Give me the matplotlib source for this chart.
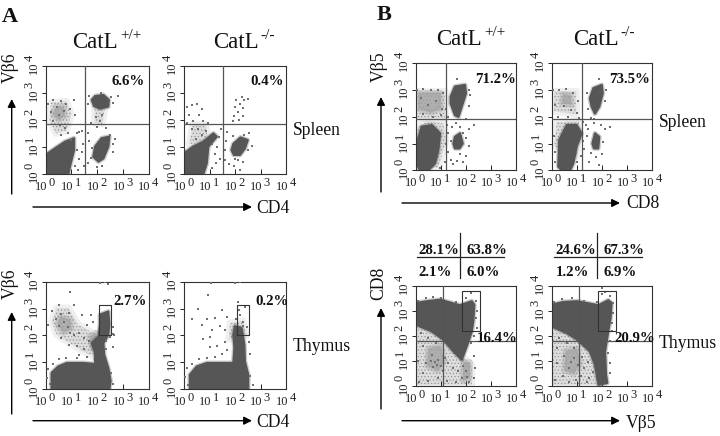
import numpy as np
import matplotlib
matplotlib.use('Agg')
import matplotlib.pyplot as plt

plt.rcParams['font.family'] = ['Liberation Serif', 'DejaVu Sans']
plt.rcParams['hatch.linewidth'] = 0.4

W, H = 720, 436
DOT = '#565656'
HAZE = '#dcdcdc'
MID = '#a2a2a2'

# all values are log10 of the fluorescence, (x, y)
# --- A spleen +/+
a1_dense = [
    [(0,0),(0,.7),(.36,.94),(.75,1.19),(1.1,1.32),(1.1,.88),(.97,.39),(.88,0)],
    [(1.85,.63),(1.92,1.01),(2.17,1.32),(2.47,1.38),(2.43,1.01),(2.24,.57),(2.05,.45)],
    [(1.79,2.75),(1.92,2.89),(2.24,2.93),(2.45,2.75),(2.43,2.5),(2.11,2.43),(1.88,2.52)],
]
a1_haze = [[(.15,2.0),(.2,2.65),(.8,2.7),(1.0,2.2),(.8,1.6),(.4,1.5)],
           [(1.9,1.9),(1.9,2.45),(2.3,2.45),(2.2,1.85)]]
a1_mid = [[(.3,2.2),(.4,2.5),(.7,2.5),(.75,2.15),(.5,2.0)]]
a1_pts = [(.1,2.6),(.3,2.75),(.45,2.5),(.6,2.7),(.8,2.6),(.95,2.4),(1.1,2.75),(.2,2.3),(.5,2.2),(.7,2.35),
          (1.15,2.2),(.3,1.95),(.55,1.8),(.75,1.7),(.6,1.45),(.85,1.5),(1.0,1.25),(1.2,1.5),(1.3,1.55),(1.4,1.6),
          (1.45,1.1),(1.2,.9),(1.3,.55),(1.4,.8),(1.5,.3),(1.15,.3),(1.25,.15),(1.65,.4),(1.75,.6),(2.0,.25),
          (2.2,.3),(2.5,1.45),(2.7,1.3),(2.6,1.1),(2.55,2.85),(2.6,2.65),(2.8,2.9),(1.7,2.9),(1.65,2.6),(2.15,3.0),
          (2.0,1.75),(2.1,1.95),(1.95,2.1),(2.2,2.2),(1.75,1.9),(2.35,1.7),(1.7,1.2),(1.65,1.5),(1.8,.95),(2.6,.8)]
# --- A spleen -/-
a2_dense = [
    [(0,0),(0,.76),(.36,1.01),(.76,1.19),(1.15,1.5),(1.28,1.38),(.95,1.01),(.89,.39),(.76,0)],
    [(1.86,.88),(1.93,1.11),(2.21,1.35),(2.49,1.25),(2.38,.94),(2.19,.7),(1.95,.7)],
]
a2_haze = [[(.2,1.1),(.35,1.85),(.85,1.85),(.95,1.2)]]
a2_mid = []
a2_pts = [(.1,2.5),(.3,2.55),(.5,2.6),(.7,2.4),(.2,2.2),(.6,2.2),(.35,1.95),(.75,1.95),(.95,1.9),(.1,1.9),
          (.3,1.65),(.55,1.65),(.7,1.45),(.45,1.3),(.85,1.6),(1.1,1.1),(1.2,.75),(1.3,1.0),(1.35,1.35),(1.45,1.65),
          (1.25,.4),(1.1,.2),(1.4,.55),(1.6,.9),(1.65,1.2),(1.7,1.55),(1.6,.5),(1.75,.35),(1.95,.3),(2.1,.5),
          (2.2,.15),(2.3,.45),(2.5,.9),(2.65,1.05),(2.0,2.5),(2.2,2.6),(2.1,2.3),(2.3,2.45),(2.35,2.75),(2.5,2.8),
          (1.95,2.15),(2.15,2.0),(1.9,1.95),(2.3,2.15),(2.05,2.75),(2.25,2.85),(1.9,1.4),(2.35,1.45),(2.55,1.5),(2.0,.55)]
# --- A thymus +/+
a3_dense = [[(.23,0),(.23,.6),(.49,.84),(.82,.97),(1.46,.97),(1.92,.93),(1.92,1.34),(1.79,1.71),(2.05,1.96),
             (2.11,2.4),(2.11,2.77),(2.43,2.89),(2.47,2.4),(2.43,2.02),(2.24,1.71),(2.27,1.28),(2.43,.78),(2.52,.29),(2.47,0)]]
a3_haze = [[(.23,2.52),(.43,3.02),(.88,3.02),(1.27,2.4),(1.98,2.02),(1.98,1.16),(1.46,1.4),(.82,1.78),(.43,2.02)]]
a3_mid = [[(.45,2.4),(.55,2.7),(.95,2.6),(1.0,2.25),(.7,2.1)], [(1.7,1.95),(1.95,2.1),(2.0,1.55),(1.8,1.5)]]
a3_pts = [(.1,.75),(.05,.4),(.15,.2),(.3,.95),(.5,1.1),(.8,1.15),(1.2,1.15),(1.6,1.2),(.1,2.4),(.25,2.9),
          (.5,3.15),(.9,2.85),(1.1,3.15),(.95,3.6),(1.4,2.75),(1.6,2.4),(1.75,2.75),(1.85,2.5),(.6,1.9),(.9,1.65),
          (1.2,1.6),(1.3,1.25),(1.5,1.5),(.4,2.6),(.6,2.8),(.7,2.5),(.5,2.35),(.85,2.3),(.95,2.1),(1.1,2.0),
          (1.3,2.1),(1.5,1.9),(1.7,1.8),(2.35,1.8),(2.5,1.95),(2.6,1.55),(2.55,.6),(2.6,.2),(2.1,3.95),(2.3,3.98),
          (2.4,3.9),(2.6,2.3),(2.6,2.05),(2.65,2.0),(2.35,1.5)]
# --- A thymus -/-
a4_dense = [[(.23,0),(.23,.53),(.5,.84),(.89,.97),(1.93,.97),(1.97,1.53),(1.93,2.02),(1.99,2.34),(2.25,2.27),
             (2.36,1.65),(2.38,1.03),(2.51,.53),(2.51,0)]]
a4_haze = [[(1.75,1.85),(1.8,2.45),(2.3,2.55),(2.45,2.0)]]
a4_mid = []
a4_pts = [(.1,.8),(.05,.45),(.15,.15),(.3,.95),(.6,1.1),(.9,1.15),(1.2,1.2),(1.5,1.3),(1.7,1.45),(1.3,1.6),
          (1.0,1.55),(1.6,1.75),(.3,2.6),(.55,3.0),(.7,2.4),(.9,2.6),(1.1,2.2),(1.0,1.95),(.75,1.85),(1.2,2.65),
          (1.4,2.35),(1.6,2.2),(1.7,2.7),(1.5,2.95),(.95,3.5),(1.05,3.95),(2.0,3.95),(2.2,3.98),(2.05,2.6),(2.2,2.75),
          (2.3,2.5),(2.15,2.95),(2.4,3.05),(2.1,3.25),(2.3,2.35),(2.45,2.3),(2.55,1.75),(2.6,1.3),(2.6,.5),(2.7,.15)]
# --- B spleen +/+
b1_dense = [
    [(.04,.26),(.04,1.0),(.24,1.63),(.64,1.69),(.97,1.38),(.9,.76),(.77,.26),(.5,0),(.17,0)],
    [(1.39,2.75),(1.56,3.13),(1.96,3.19),(2.0,2.88),(1.83,2.38),(1.7,2.0),(1.56,2.06),(1.39,2.5)],
    [(1.5,1.0),(1.56,1.25),(1.76,1.38),(1.87,1.0),(1.74,.82),(1.56,.82)],
]
b1_haze = [[(.04,1.95),(.04,2.95),(1.15,2.95),(1.15,1.95)],
           [(.04,1.6),(.04,.1),(.9,.1),(1.2,1.1),(1.1,1.75),(.5,1.85)]]
b1_mid = [[(.1,2.3),(.1,2.9),(1.0,2.9),(1.0,2.3),(.6,2.15)]]
b1_pts = [(.05,3.0),(.3,3.05),(.6,3.02),(.9,3.0),(1.1,2.9),(.2,2.7),(.5,2.45),(.8,2.6),(1.05,2.3),(.3,2.1),
          (.7,2.0),(1.0,2.05),(1.2,2.3),(1.3,2.0),(1.25,1.7),(1.3,1.4),(1.2,1.0),(1.3,.7),(1.15,.3),(.95,.1),
          (1.4,.4),(1.5,.25),(1.65,.35),(1.75,.6),(1.45,1.6),(1.6,1.75),(1.75,1.6),(1.9,1.4),(2.0,1.2),(2.1,.9),
          (2.0,.55),(1.9,.3),(2.1,2.4),(2.15,2.8),(2.1,3.0),(1.65,3.4),(2.0,1.9),(2.1,1.55),(2.3,1.7),(1.4,1.1)]
# --- B spleen -/-
b2_dense = [
    [(.26,.14),(.3,1.13),(.6,1.69),(.99,1.69),(1.19,1.38),(.99,.88),(.86,.26),(.73,0),(.4,0)],
    [(1.52,2.69),(1.66,3.07),(1.99,3.19),(2.03,2.88),(1.89,2.38),(1.72,2.12),(1.59,2.38)],
    [(1.62,1.0),(1.72,1.38),(1.89,1.25),(1.85,.82),(1.68,.82)],
]
b2_haze = [[(.1,2.2),(.1,2.95),(.95,2.95),(.95,2.1)],[(.1,.9),(.2,1.8),(1.1,1.85),(1.0,.5)]]
b2_mid = [[(.4,2.5),(.45,2.85),(.75,2.8),(.8,2.45)]]
b2_pts = [(.05,3.0),(.3,3.0),(.55,3.05),(.85,2.9),(1.05,2.6),(.15,2.45),(.5,2.4),(.75,2.25),(1.0,2.15),(.25,2.0),
          (.65,2.0),(1.1,1.95),(1.25,1.8),(1.35,1.7),(1.45,1.55),(1.25,1.1),(1.3,.8),(1.15,.55),(1.0,.3),(.15,.7),
          (.1,1.3),(.15,.3),(1.4,1.3),(1.55,.65),(1.5,.3),(1.75,.5),(1.9,.2),(2.0,.6),(2.05,1.05),(2.1,1.55),
          (1.95,1.7),(1.7,1.75),(1.55,1.95),(1.7,1.9),(1.4,2.9),(1.45,2.3),(2.1,2.6),(2.15,3.0),(2.3,1.6),(1.9,3.4)]
# --- B thymus +/+
b3_dense = [[(0,3.31),(.44,3.38),(.97,3.44),(1.76,3.22),(2.23,3.38),(2.33,3.24),(2.29,2.58),(2.23,2.18),
             (2.03,1.58),(1.83,1.05),(1.5,1.38),(1.1,1.85),(.64,2.18),(0,2.45)]]
b3_haze = [[(0,2.45),(.64,2.25),(1.1,1.95),(1.83,1.2),(2.23,.85),(2.23,.05),(0,.05)]]
b3_mid = [[(.45,.8),(.5,1.5),(1.0,1.6),(1.15,1.0),(.9,.6)], [(1.9,.2),(1.9,.95),(2.15,.95),(2.15,.3)]]
b3_pts = [(.1,3.4),(.4,3.5),(.7,3.55),(1.0,3.5),(1.6,3.35),(2.0,3.5),(2.2,3.7),(2.4,3.4),(2.45,3.0),(2.4,2.7),
          (2.45,2.3),(2.3,2.0),(2.2,1.7),(2.3,1.2),(2.35,.7),(2.3,.3),(.2,2.1),(.5,1.9),(.8,1.7),(.3,1.6),
          (.65,1.25),(.6,1.0),(.75,.95),(.9,1.05),(.85,.85),(1.0,.8),(.7,.75),(1.15,1.1),(1.3,.9),(1.1,.6),
          (1.5,.7),(1.7,.6),(1.9,.8),(2.0,.6),(2.05,.35),(2.1,.15),(1.85,.3),(.3,.5),(.15,.15),(.5,.2),
          (.9,.3),(1.25,.2),(1.6,.15),(.1,1.0),(.4,.9)]
# --- B thymus -/-
b4_dense = [[(0,3.24),(.46,3.35),(1.02,3.38),(1.86,3.22),(2.25,3.42),(2.38,3.31),(2.34,2.71),(2.25,2.18),(2.12,1.38),
             (2.16,.45),(2.21,.12),(1.86,.05),(1.72,.85),(1.52,1.38),(1.02,1.85),(.6,2.11),(0,2.38)]]
b4_haze = [[(0,2.38),(.6,2.2),(1.02,1.95),(1.65,1.3),(1.9,.05),(0,.05)]]
b4_mid = [[(.5,.6),(.55,1.4),(1.0,1.5),(1.15,.9),(.9,.5)]]
b4_pts = [(.1,3.35),(.4,3.45),(.8,3.5),(1.3,3.4),(1.8,3.35),(2.0,3.65),(2.3,3.6),(2.45,3.3),(2.45,2.9),(2.4,2.5),
          (2.4,2.2),(2.3,1.8),(2.25,1.3),(2.3,.9),(2.3,.5),(.3,1.9),(.6,1.7),(.9,1.5),(.2,1.5),(.5,1.2),
          (.75,.95),(.9,1.1),(1.05,.85),(.7,.7),(1.2,1.15),(1.3,.7),(1.45,.95),(1.15,.4),(.95,.25),(.45,.4),
          (.15,.25),(.2,.9),(1.5,.3),(1.65,.55),(1.4,.15),(.7,.15),(2.0,3.9),(2.1,3.75)]

# panel: box in pixels (left, top, right, bottom), dense, haze, mid, dots, quadrant, gate
panels = [
    ((45.7, 66.3, 148.7, 173.7), a1_dense, a1_haze, a1_mid, a1_pts, (1.53, 1.84), None),
    ((184, 66.3, 286.3, 173.7), a2_dense, a2_haze, a2_mid, a2_pts, (1.52, 1.84), None),
    ((45.7, 281.7, 148.7, 389), a3_dense, a3_haze, a3_mid, a3_pts, None, (2.06, 2.55, 2.02, 3.12)),
    ((184, 281.7, 286.3, 389), a4_dense, a4_haze, a4_mid, a4_pts, None, (2.06, 2.55, 2.02, 3.12)),
    ((415.7, 63.3, 516.3, 170.3), b1_dense, b1_haze, b1_mid, b1_pts, (1.2, 1.92), None),
    ((551.7, 63.3, 652.3, 170.3), b2_dense, b2_haze, b2_mid, b2_pts, (1.2, 1.92), None),
    ((415.7, 285.7, 516.3, 386), b3_dense, b3_haze, b3_mid, b3_pts, (1.1, 1.78), (1.83, 2.57, 2.2, 3.8)),
    ((551.7, 285.7, 652.3, 386), b4_dense, b4_haze, b4_mid, b4_pts, (1.1, 1.78), (1.83, 2.57, 2.2, 3.8)),
]

fig = plt.figure(figsize=(W / 100, H / 100), dpi=100)


def draw_panel(box, dense, haze, mid, pts, quad, gate):
    l, t, r, b = box
    ax = fig.add_axes([l / W, 1 - b / H, (r - l) / W, (b - t) / H])
    ax.set_xscale('log')
    ax.set_yscale('log')
    ax.set_xlim(1, 1e4)
    ax.set_ylim(1, 1e4)
    for poly in haze:
        p = 10 ** np.array(poly)
        # soft rim, then a stipple over it
        ax.fill(p[:, 0], p[:, 1], facecolor=HAZE, edgecolor=HAZE, lw=5, alpha=0.45, joinstyle='round', zorder=1)
        ax.fill(p[:, 0], p[:, 1], facecolor=HAZE, edgecolor=HAZE, lw=0, zorder=1)
        ax.fill(p[:, 0], p[:, 1], facecolor='none', edgecolor='#8c8c8c', hatch='.....', lw=0, zorder=1)
    for poly in mid:
        p = 10 ** np.array(poly)
        ax.fill(p[:, 0], p[:, 1], facecolor=MID, edgecolor=MID, lw=4, alpha=0.4, joinstyle='round', zorder=1.5)
        ax.fill(p[:, 0], p[:, 1], facecolor=MID, edgecolor=MID, lw=0, alpha=0.6, zorder=1.5)
    for poly in dense:
        p = 10 ** np.array(poly)
        ax.fill(p[:, 0], p[:, 1], facecolor=DOT, edgecolor=DOT, lw=3.5, alpha=0.3, joinstyle='round', zorder=2)
        ax.fill(p[:, 0], p[:, 1], facecolor=DOT, edgecolor=DOT, lw=1.6, joinstyle='round', zorder=2)
    p = 10 ** np.array(pts)
    ax.scatter(p[:, 0], p[:, 1], s=0.7, marker='s', color='#707070', lw=0, zorder=3)
    if quad:
        ax.axvline(10 ** quad[0], color='#555555', lw=0.9, zorder=4)
        ax.axhline(10 ** quad[1], color='#555555', lw=0.9, zorder=4)
    if gate:
        x0, x1, y0, y1 = 10.0 ** np.array(gate)
        ax.plot([x0, x1, x1, x0, x0], [y0, y0, y1, y1, y0], color='#333333', lw=0.8, zorder=5)
    for s in ax.spines.values():
        s.set_linewidth(0.8)
        s.set_color('#333333')
    ticks = [1, 10, 100, 1000, 10000]
    ax.set_xticks(ticks, [''] * 5)
    ax.set_yticks(ticks, [''] * 5)
    ax.tick_params(axis='x', which='major', direction='in', length=3.5, width=0.7, color='#222222')
    ax.tick_params(axis='x', which='minor', direction='in', length=2, width=0.4, color='#222222')
    ax.tick_params(axis='y', which='major', direction='out', length=3.2, width=0.7, color='#222222')
    ax.tick_params(axis='y', which='minor', direction='out', length=1.8, width=0.4, color='#222222')
    ax.patch.set_alpha(0)
    # tick labels: the exponent is as big as the base, only raised
    off = dict(xycoords='data', textcoords='offset pixels', fontsize=9, color='#222222', annotation_clip=False)
    for i, v in enumerate(ticks):
        ax.annotate('10', (v, 1), xytext=(2, -7), ha='right', va='top', **off)
        ax.annotate(str(i), (v, 1), xytext=(3, -3), ha='left', va='top', **off)
        ax.annotate('10', (1, v), xytext=(-6, -8), ha='right', va='bottom', rotation=90, **off)
        ax.annotate(str(i), (1, v), xytext=(-10, 5), ha='right', va='bottom', rotation=90, **off)


for panel in panels:
    draw_panel(*panel)

# overlay in pixels for the labels and arrows
ov = fig.add_axes([0, 0, 1, 1], zorder=10)
ov.set_xlim(0, W)
ov.set_ylim(H, 0)
ov.axis('off')
ov.patch.set_alpha(0)

TXT = '#111111'


def label(x, y, s, size=12.7, **kw):
    ov.text(x, y, s, fontsize=size, color=TXT, va='baseline', **kw)


label(2, 21.7, 'A', size=16, fontweight='bold')
label(377, 20, 'B', size=16, fontweight='bold')

for x, sx, s, y in [(72, 120, '+/+', 48), (212.7, 260.7, '-/-', 48), (436, 484, '+/+', 45), (572.7, 620.7, '-/-', 45)]:
    label(x, y, 'CatL', size=16.5)
    label(sx, y - 9, s, size=11)

pct = [('6.6%', 111.7, 85), ('0.4%', 250, 85), ('2.7%', 113.7, 305), ('0.2%', 255, 305),
       ('71.2%', 475, 82.7), ('73.5%', 609, 83), ('16.4%', 477, 342), ('20.9%', 614, 342),
       ('28.1%', 418.7, 254), ('63.8%', 466.7, 254), ('2.1%', 418.7, 276.3), ('6.0%', 466.7, 276.3),
       ('24.6%', 555.7, 254), ('67.3%', 603.7, 254), ('1.2%', 555.7, 276.3), ('6.9%', 603.7, 276.3)]
for s, x, y in pct:
    label(x, y, s, size=10.7, fontweight='bold')

label(293, 135, 'Spleen')
label(293, 351, 'Thymus')
label(659, 126.7, 'Spleen')
label(659, 348, 'Thymus')
label(256.7, 212.7, 'CD4')
label(256.7, 427, 'CD4')
label(626, 208, 'CD8')
label(626, 428, 'Vβ5')

for x, y, s in [(19, 83, 'Vβ6'), (19, 299, 'Vβ6'), (387.5, 81.7, 'Vβ5'), (387.5, 299.7, 'CD8')]:
    ov.text(x, y, s, fontsize=12.7, color=TXT, rotation=90, ha='left', va='bottom', rotation_mode='anchor')

arrows = [((11.7, 194), (11.7, 99)), ((33, 207), (252, 207)), ((11.7, 414), (11.7, 312)), ((33, 420.7), (252, 420.7)),
          ((381, 192), (381, 97)), ((402, 203), (620, 203)), ((381, 409), (381, 308)), ((402, 420.7), (620, 420.7))]
for a, b in arrows:
    ov.annotate('', xy=b, xytext=a, arrowprops=dict(arrowstyle='-|>', color='black', lw=1.0, mutation_scale=12,
                                                    shrinkA=0, shrinkB=0))

for x0, x1, xv in [(416.7, 504.3, 460), (554, 641.7, 597)]:
    ov.plot([x0, x1], [257.3, 257.3], color='#222222', lw=0.9)
    ov.plot([xv, xv], [233, 278], color='#222222', lw=0.9)

fig.savefig('out.png', dpi=100)
